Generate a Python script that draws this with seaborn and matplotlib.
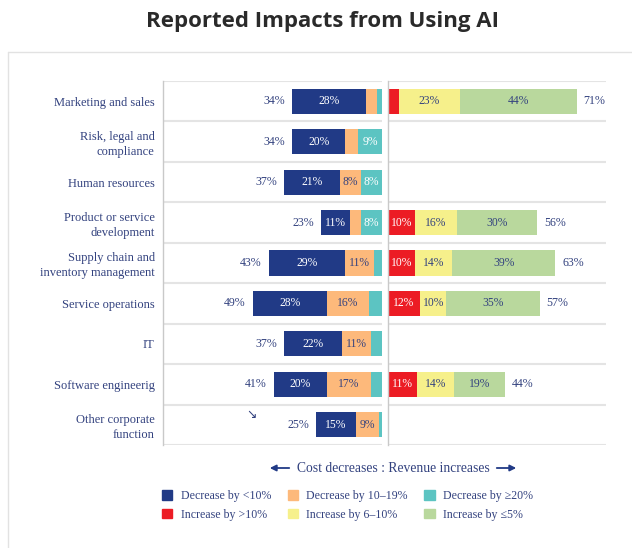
import numpy as np
import pandas as pd
import matplotlib
matplotlib.use("Agg")
import matplotlib.pyplot as plt
from matplotlib.lines import Line2D
from matplotlib.patches import Patch
import seaborn as sns

categories = ["Marketing and sales", "Risk, legal and\ncompliance", "Human resources",
              "Product or service\ndevelopment", "Supply chain and\ninventory management",
              "Service operations", "IT", "Software engineerig", "Other corporate\nfunction"]

# cost decreases (left side)
dec_lt10 = [28, 20, 21, 11, 29, 28, 22, 20, 15]
dec_10_19 = [4, 5, 8, 4, 11, 16, 11, 17, 9]
dec_ge20 = [2, 9, 8, 8, 3, 5, 4, 4, 1]
cost_total = [34, 34, 37, 23, 43, 49, 37, 41, 25]

# revenue increases (right side), 0 = not reported
inc_gt10 = [4, 0, 0, 10, 10, 12, 0, 11, 0]
inc_6_10 = [23, 0, 0, 16, 14, 10, 0, 14, 0]
inc_le5 = [44, 0, 0, 30, 39, 35, 0, 19, 0]
rev_total = [71, 0, 0, 56, 63, 57, 0, 44, 0]

labels_cost = ["Decrease by <10%", "Decrease by 10\u201319%", "Decrease by \u226520%"]
labels_rev = ["Increase by >10%", "Increase by 6\u201310%", "Increase by \u22645%"]

c_navy = "#213a86"
c_orange = "#fdb97b"
c_cyan = "#5cc4c2"
c_red = "#ec1c24"
c_yellow = "#f6f08b"
c_green = "#b9d89d"
txt = "#33427f"
grid = "#e4e4e4"

sns.set_style("white")
plt.rcParams["font.family"] = ["Liberation Serif", "DejaVu Serif"]

fig = plt.figure(figsize=(6.32, 5.48), dpi=100)
W, H = 632, 548

def box(x0, x1, y0, y1):
    return [x0 / W, 1 - y1 / H, (x1 - x0) / W, (y1 - y0) / H]

axl = fig.add_axes(box(163, 382, 81, 445))
axr = fig.add_axes(box(388, 606, 81, 445))

df = pd.DataFrame({"cat": categories,
                   "a": dec_lt10, "b": dec_10_19, "c": dec_ge20,
                   "r": inc_gt10, "y": inc_6_10, "g": inc_le5})

def stack(ax, cols, colors, tcolors):
    # cols listed from the centre line outwards
    cum = np.cumsum(df[cols].to_numpy(), axis=1)
    for k in range(len(cols) - 1, -1, -1):
        sns.barplot(x=cum[:, k], y=df["cat"], color=colors[k], orient="h",
                    width=0.62, saturation=1, linewidth=0, errorbar=None, ax=ax)
    for i in range(len(df)):
        prev = 0
        for k, col in enumerate(cols):
            v = df[col].iloc[i]
            if v >= 8:
                ax.text(prev + v / 2, i, f"{v}%", ha="center", va="center",
                        fontsize=8.4, color=tcolors[k])
            prev += v

stack(axl, ["c", "b", "a"], [c_cyan, c_orange, c_navy], ["white", txt, "white"])
stack(axr, ["r", "y", "g"], [c_red, c_yellow, c_green], ["white", txt, txt])

for i, t in enumerate(cost_total):
    axl.annotate(f"{t}%", xy=(t, i), xytext=(-5, 0), textcoords="offset points",
                 ha="right", va="center", fontsize=8.6, color=txt)
for i, t in enumerate(rev_total):
    if t > 0:
        axr.annotate(f"{t}%", xy=(t, i), xytext=(5, 0), textcoords="offset points",
                     ha="left", va="center", fontsize=8.6, color=txt)

axl.set_xlim(83, 0)
axr.set_xlim(0, 82)
for ax in (axl, axr):
    ax.set_ylim(8.5, -0.5)
    ax.set_xlabel("")
    ax.set_ylabel("")
    ax.set_xticks([])
    for s in ("top", "right", "bottom"):
        ax.spines[s].set_visible(False)
    ax.spines["left"].set_color("#c9c9c9")
    ax.spines["left"].set_linewidth(1)
    for b in np.arange(-0.5, 9, 1):
        ax.axhline(b, color=grid, lw=1.5, zorder=0)

axl.set_yticks(range(len(categories)))
axl.set_yticklabels(categories, fontsize=9, color=txt, linespacing=1.3)
axl.set_yticks(np.arange(-0.5, 9, 1), minor=True)
axl.tick_params(axis="y", which="major", length=0, pad=6)
axl.tick_params(axis="y", which="minor", length=4, width=1.5, color=grid)
axr.set_yticks([])

# stray arrow mark in original
fig.text(251 / W, 1 - 414 / H, "\u2198", ha="center", va="center", fontsize=9,
         color=txt, family=["DejaVu Sans"])

# frame and title
fig.add_artist(Line2D([8 / W, 8 / W], [0, 1 - 52 / H], color="#e2e2e2", lw=1,
                      transform=fig.transFigure))
fig.add_artist(Line2D([8 / W, 1], [1 - 52 / H, 1 - 52 / H], color="#e2e2e2", lw=1,
                      transform=fig.transFigure))
fig.text(322 / W, 1 - 21 / H, "Reported Impacts from Using AI", ha="center", va="center",
         fontsize=16, fontweight="bold", color="#2a2a2a", family=["Open Sans", "DejaVu Sans"])

# direction caption
fig.text(393 / W, 1 - 468 / H, "Cost decreases : Revenue increases", ha="center",
         va="center", fontsize=9.8, color=txt)
ap = dict(arrowstyle="-|>", color=c_navy, lw=1.3, mutation_scale=9)
fig.add_artist(plt.matplotlib.text.Annotation("", xy=(267 / W, 1 - 468 / H),
               xytext=(292 / W, 1 - 468 / H), xycoords="figure fraction",
               textcoords="figure fraction", arrowprops=ap))
fig.add_artist(plt.matplotlib.text.Annotation("", xy=(519 / W, 1 - 468 / H),
               xytext=(494 / W, 1 - 468 / H), xycoords="figure fraction",
               textcoords="figure fraction", arrowprops=ap))

# legend (column-wise order)
handles = [Patch(color=c_navy), Patch(color=c_red), Patch(color=c_orange),
           Patch(color=c_yellow), Patch(color=c_cyan), Patch(color=c_green)]
names = [labels_cost[0], labels_rev[0], labels_cost[1], labels_rev[1],
         labels_cost[2], labels_rev[2]]
fig.legend(handles, names, ncol=3, loc="upper left", bbox_to_anchor=(162 / W, 1 - 490 / H),
           frameon=False, fontsize=8.6, labelcolor=txt, handlelength=0.85,
           handleheight=0.85, handletextpad=0.7, columnspacing=1.4, labelspacing=0.55,
           borderpad=0, borderaxespad=0)

fig.savefig("out.png", dpi=100)
